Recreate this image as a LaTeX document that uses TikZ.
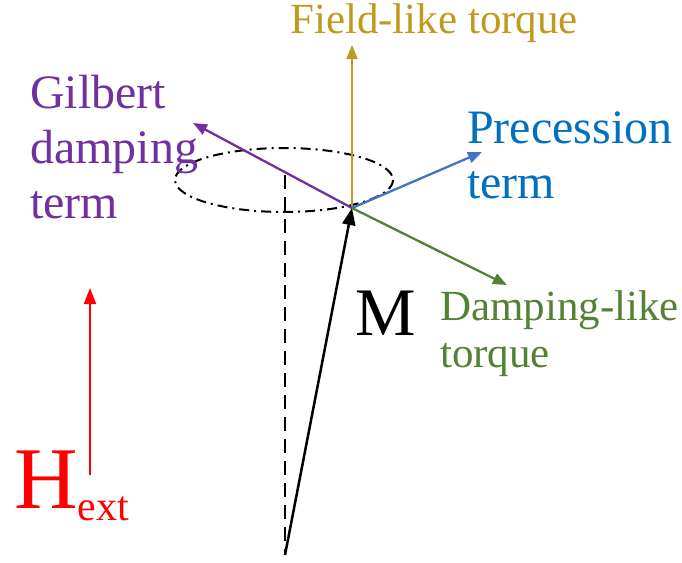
\documentclass[tikz,border=0pt]{standalone}
\usepackage{fontspec}
\setmainfont{Liberation Serif}
\usetikzlibrary{arrows.meta}
\definecolor{goldc}{HTML}{C09A1E}
\definecolor{blueline}{HTML}{4472C4}
\definecolor{bluetext}{HTML}{0070C0}
\definecolor{purplec}{HTML}{7030A0}
\definecolor{greenc}{HTML}{548235}
\begin{document}
\begin{tikzpicture}[x=1pt,y=-1pt,
  vec/.style={line width=2.3pt,-{Triangle[length=14pt,width=11pt]}},
  lbl/.style={inner sep=0pt,anchor=base west,align=left},
  big/.style={font=\fontsize{48}{55}\selectfont},
  mid/.style={font=\fontsize{43}{47}\selectfont}]
\useasboundingbox (0,0) rectangle (682,562);
\coordinate (O) at (352,208);
\coordinate (base) at (285,555);
\coordinate (top) at (285,175);
\coordinate (gil) at (193,123);
\coordinate (pre) at (482,152);
\coordinate (dam) at (507,285);
\coordinate (fld) at (352,45);
\coordinate (hs) at (90,475);
\coordinate (he) at (90,288);
% precession cone
\draw[line width=2pt,dash pattern=on 10pt off 5pt on 2pt off 5pt] (284,180) ellipse [x radius=109, y radius=32];
\draw[line width=2.3pt,dash pattern=on 14pt off 8pt] (top) -- (base);
% torque vectors
\draw[vec,goldc] (O) -- (fld);
\draw[vec,purplec] (O) -- (gil);
\draw[vec,blueline] (O) -- (pre);
\draw[vec,greenc] (O) -- (dam);
\draw[line width=2.5pt,-{Triangle[length=17pt,width=13pt]}] (base) -- (O);
\draw[line width=2.3pt,red,-{Triangle[length=16pt,width=12pt]}] (hs) -- (he);
% labels
\node[lbl,mid,text=goldc] (tF) at (290,33) {Field-like torque};
\node[lbl,big,text=purplec] (tG) at (30,218) {Gilbert\\damping\\term};
\node[lbl,big,text=bluetext] (tP) at (467,198) {Precession\\term};
\node[lbl,mid,text=greenc] (tD) at (440,367) {Damping-like\\torque};
\node[lbl,font=\fontsize{68}{70}\selectfont] (tM) at (355,335) {M};
\node[lbl,text=red] (tH) at (14,508) {\fontsize{88}{90}\selectfont H\raisebox{-12pt}{\fontsize{42}{44}\selectfont ext}};
\end{tikzpicture}
\end{document}
